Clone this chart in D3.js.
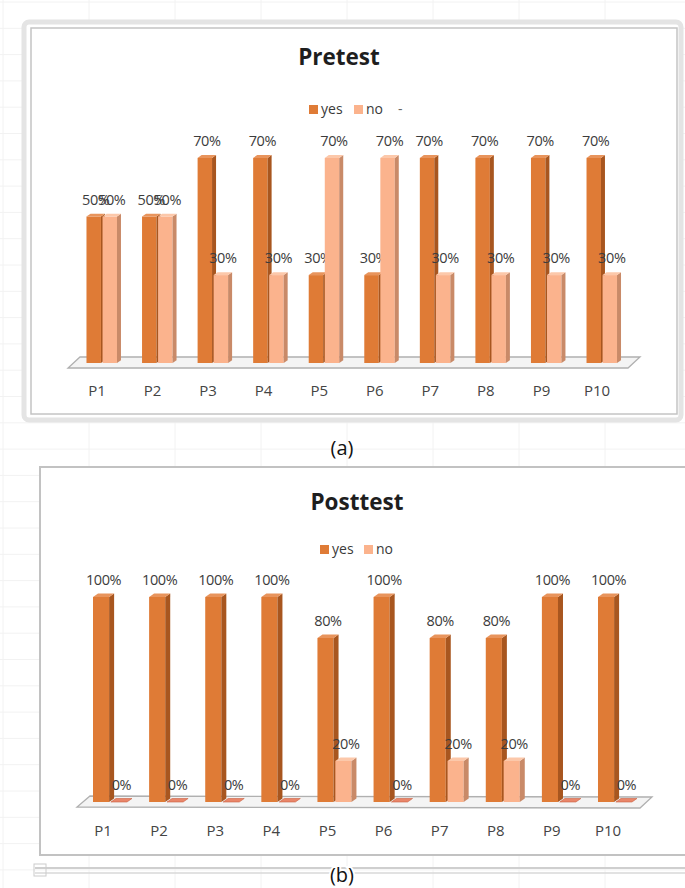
<!DOCTYPE html>
<html>
<head>
<meta charset="utf-8">
<script src="https://cdn.jsdelivr.net/npm/d3@7"></script>
<style>
  html, body { margin: 0; padding: 0; background: #fff; }
  svg { display: block; }
  text { font-family: "Open Sans", "DejaVu Sans", sans-serif; }
</style>
</head>
<body>
<svg id="chart" width="685" height="888"></svg>
<script>
// ---------- data ----------
const categories = ["P1","P2","P3","P4","P5","P6","P7","P8","P9","P10"];
const seriesNames = ["yes","no"];
const pretestYes  = [50,50,70,70,30,30,70,70,70,70];
const pretestNo   = [50,50,30,30,70,70,30,30,30,30];
const posttestYes = [100,100,100,100,80,100,80,80,100,100];
const posttestNo  = [0,0,0,0,20,0,20,20,0,0];
const pretestTitle = "Pretest";
const posttestTitle = "Posttest";
const panelLabels = ["(a)","(b)"];

// ---------- style ----------
const colors = {
  yes: { front: "#DF7B36", side: "#A8561F", top: "#E8945C" },
  no:  { front: "#FBB38D", side: "#C98A68", top: "#FCC8AA" }
};

const svg = d3.select("#chart");
svg.append("rect").attr("width", 685).attr("height", 888).attr("fill", "#fff");

// faint spreadsheet grid behind the charts
const bg = svg.append("g").attr("stroke", "#f2f2f2").attr("stroke-width", 1);
d3.range(3, 685, 86).forEach(x => bg.append("line").attr("x1", x).attr("x2", x).attr("y1", 0).attr("y2", 888));
d3.range(2, 888, 26.3).forEach(y => bg.append("line").attr("x1", 0).attr("x2", 685).attr("y1", y).attr("y2", y));

// ---------- chart builder ----------
function drawChart(cfg) {
  const g = svg.append("g");
  cfg.frame(g);

  // title
  g.append("text").attr("x", cfg.titleX).attr("y", cfg.titleY)
    .attr("text-anchor", "middle").attr("font-size", 22.5).attr("font-weight", 700)
    .attr("fill", "#1e1e1e").text(cfg.title);

  // legend
  const lg = g.append("g");
  cfg.legend.forEach((it, i) => {
    lg.append("rect").attr("x", it.x).attr("y", cfg.legendY - 9).attr("width", 9).attr("height", 9)
      .attr("fill", colors[seriesNames[i]].front);
    lg.append("text").attr("x", it.x + 12).attr("y", cfg.legendY).attr("font-size", 14)
      .attr("fill", "#3a3a3a").text(seriesNames[i]);
  });
  if (cfg.legendExtra) {
    lg.append("text").attr("x", cfg.legendExtra.x).attr("y", cfg.legendY).attr("font-size", 14)
      .attr("fill", "#666").text(cfg.legendExtra.text);
  }

  // scales
  const x = d3.scaleBand().domain(categories).range(cfg.xRange).padding(0);
  const xs = d3.scaleBand().domain(seriesNames).range(cfg.subRange).paddingInner(0.1).paddingOuter(0);
  const y = d3.scaleLinear().domain([0, 100]).range([cfg.y0, cfg.y0 - cfg.h100]);

  // floor
  const f = cfg.floor;
  g.append("path")
    .attr("d", `M${f.tl[0]},${f.tl[1]} L${f.tr[0]},${f.tr[1]} L${f.br[0]},${f.br[1]} L${f.bl[0]},${f.bl[1]} Z`)
    .attr("fill", "#f4f4f4").attr("stroke", "#b0b0b0").attr("stroke-width", 1.3);

  const d = cfg.depth, dy = d * 0.7;
  const data = [];
  categories.forEach((c, i) => {
    seriesNames.forEach(s => {
      data.push({ cat: c, s, v: cfg.values[s][i] });
    });
  });

  const bars = g.append("g").selectAll("g").data(data).join("g");
  bars.each(function(p) {
    const sel = d3.select(this);
    const bw = xs.bandwidth();
    const x0 = x(p.cat) + x.bandwidth() / 2 + xs(p.s);
    const yt = y(p.v), yb = y(0);
    const col = colors[p.s];
    if (p.v > 0) {
      sel.append("rect").attr("x", x0).attr("y", yt).attr("width", bw).attr("height", yb - yt)
        .attr("fill", col.front);
      sel.append("path")
        .attr("d", `M${x0 + bw},${yt} L${x0 + bw + d},${yt - dy} L${x0 + bw + d},${yb - dy} L${x0 + bw},${yb} Z`)
        .attr("fill", col.side);
      sel.append("path")
        .attr("d", `M${x0},${yt} L${x0 + d},${yt - dy} L${x0 + bw + d},${yt - dy} L${x0 + bw},${yt} Z`)
        .attr("fill", col.top);
    } else {
      sel.append("path")
        .attr("d", `M${x0},${yb} L${x0 + d},${yb - dy} L${x0 + bw + d},${yb - dy} L${x0 + bw},${yb} Z`)
        .attr("fill", "#E9866A").attr("stroke", "#C9603F").attr("stroke-width", 0.6);
    }
    sel.append("text").attr("x", x0 + (bw + d) / 2).attr("y", yt - cfg.labelGap)
      .attr("text-anchor", "middle").attr("font-size", 14.5).attr("fill", "#3c3c3c")
      .attr("letter-spacing", -0.4)
      .text(p.v + "%");
  });

  // category axis labels
  g.append("g").selectAll("text").data(categories).join("text")
    .attr("x", c => x(c) + x.bandwidth() / 2).attr("y", cfg.catY)
    .attr("text-anchor", "middle").attr("font-size", 15).attr("fill", "#444")
    .text(c => c);
}

// ---------- Pretest ----------
drawChart({
  title: pretestTitle, titleX: 339, titleY: 65,
  legendY: 114, legend: [{ x: 309 }, { x: 354 }], legendExtra: { x: 398, text: "-" },
  values: { yes: pretestYes, no: pretestNo },
  xRange: [97 - 27.8, 597 + 27.8], subRange: [-10.5, 20],
  y0: 363, h100: 293, depth: 4, labelGap: 12, catY: 396,
  floor: { tl: [80, 357], tr: [640, 357], br: [628, 368], bl: [68, 368] },
  frame: g => {
    g.append("rect").attr("x", 24).attr("y", 22).attr("width", 657).attr("height", 398).attr("rx", 5)
      .attr("fill", "#fff").attr("stroke", "#e4e4e4").attr("stroke-width", 5);
    g.append("rect").attr("x", 31).attr("y", 28).attr("width", 646).attr("height", 386)
      .attr("fill", "#fff").attr("stroke", "#c4c4c4").attr("stroke-width", 1.5);
  }
});

// ---------- Posttest ----------
drawChart({
  title: posttestTitle, titleX: 357, titleY: 510,
  legendY: 554, legend: [{ x: 320 }, { x: 364 }],
  values: { yes: posttestYes, no: posttestNo },
  xRange: [103 - 28.05, 608 + 28.05], subRange: [-10, 24],
  y0: 802, h100: 205, depth: 5, labelGap: 12, catY: 836,
  floor: { tl: [90, 796], tr: [652, 797], br: [640, 808], bl: [77, 807] },
  frame: g => {
    g.append("rect").attr("x", 40).attr("y", 467).attr("width", 650).attr("height", 388)
      .attr("fill", "#fff").attr("stroke", "#c2c2c2").attr("stroke-width", 2);
  }
});

// sheet lines under the lower chart
svg.append("line").attr("x1", 35).attr("x2", 685).attr("y1", 868).attr("y2", 868).attr("stroke", "#cfcfcf").attr("stroke-width", 2);
svg.append("line").attr("x1", 35).attr("x2", 685).attr("y1", 873).attr("y2", 873).attr("stroke", "#d8d8d8").attr("stroke-width", 1.5);
svg.append("rect").attr("x", 34).attr("y", 864).attr("width", 12).attr("height", 12).attr("fill", "none").attr("stroke", "#ccc");

// panel labels
svg.append("text").attr("x", 342).attr("y", 455).attr("text-anchor", "middle")
  .attr("font-size", 20).attr("fill", "#111").text(panelLabels[0]);
svg.append("text").attr("x", 342).attr("y", 882).attr("text-anchor", "middle")
  .attr("font-size", 20).attr("fill", "#111").attr("paint-order", "stroke")
  .attr("stroke", "#fff").attr("stroke-width", 4).text(panelLabels[1]);
</script>
</body>
</html>
